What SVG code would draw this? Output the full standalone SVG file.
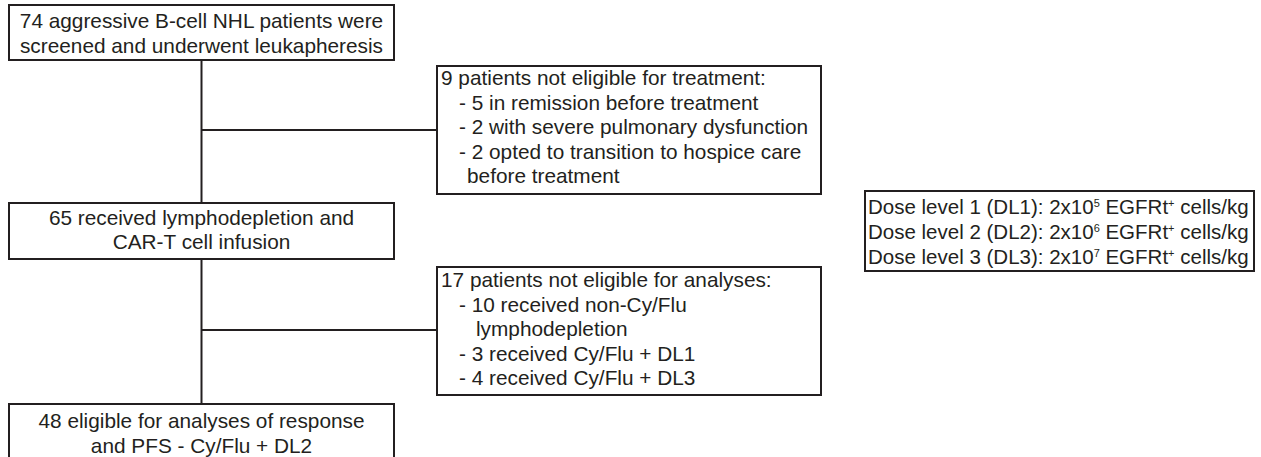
<svg xmlns="http://www.w3.org/2000/svg" width="1261" height="457" viewBox="0 0 1261 457">
  <style>
    .box { fill: #ffffff; stroke: #231f20; stroke-width: 2; }
    .link { fill: none; stroke: #231f20; stroke-width: 2; }
    text { font-family: "Liberation Sans", Arial, Helvetica, sans-serif; font-size: 20.8px; fill: #231f20; }
    .c { text-anchor: middle; }
    .legend { font-size: 20.5px; }
    .sup { font-size: 11px; }
  </style>
  <rect width="1261" height="457" fill="#ffffff"/>

  <!-- connectors -->
  <g id="connectors">
    <path class="link" d="M201.5,60 V203"/>
    <path class="link" d="M201.5,130 H437"/>
    <path class="link" d="M201.5,259 V404"/>
    <path class="link" d="M201.5,330 H437"/>
  </g>

  <g id="screened">
    <rect class="box" x="9" y="5" width="385" height="55"/>
    <text class="c" x="201.5" y="28">74 aggressive B-cell NHL patients were</text>
    <text class="c" x="201.5" y="53">screened and underwent leukapheresis</text>
  </g>

  <g id="not-eligible-treatment">
    <rect class="box" x="437" y="66" width="384" height="128"/>
    <text x="441" y="85">9 patients not eligible for treatment:</text>
    <text x="459" y="109.5">- 5 in remission before treatment</text>
    <text x="459" y="134">- 2 with severe pulmonary dysfunction</text>
    <text x="459" y="158.5">- 2 opted to transition to hospice care</text>
    <text x="467" y="183">before treatment</text>
  </g>

  <g id="infused">
    <rect class="box" x="9" y="203" width="385" height="56"/>
    <text class="c" x="201.5" y="224.5">65 received lymphodepletion and</text>
    <text class="c" x="201.5" y="249">CAR-T cell infusion</text>
  </g>

  <g id="not-eligible-analyses">
    <rect class="box" x="437" y="267" width="384" height="128"/>
    <text x="441" y="287">17 patients not eligible for analyses:</text>
    <text x="459" y="311.5">- 10 received non-Cy/Flu</text>
    <text x="476" y="336">lymphodepletion</text>
    <text x="459" y="360.5">- 3 received Cy/Flu + DL1</text>
    <text x="459" y="385">- 4 received Cy/Flu + DL3</text>
  </g>

  <g id="eligible">
    <rect class="box" x="9" y="404" width="385" height="60"/>
    <text class="c" x="201.5" y="428">48 eligible for analyses of response</text>
    <text class="c" x="201.5" y="453">and PFS - Cy/Flu + DL2</text>
  </g>

  <g id="dose-levels">
    <rect class="box" x="865" y="191" width="389" height="80"/>
    <text class="legend" x="868" y="214">Dose level 1 (DL1): 2x10<tspan class="sup" dy="-7">5</tspan><tspan dy="7"> EGFRt</tspan><tspan class="sup" dy="-7">+</tspan><tspan dy="7"> cells/kg</tspan></text>
    <text class="legend" x="868" y="239">Dose level 2 (DL2): 2x10<tspan class="sup" dy="-7">6</tspan><tspan dy="7"> EGFRt</tspan><tspan class="sup" dy="-7">+</tspan><tspan dy="7"> cells/kg</tspan></text>
    <text class="legend" x="868" y="264">Dose level 3 (DL3): 2x10<tspan class="sup" dy="-7">7</tspan><tspan dy="7"> EGFRt</tspan><tspan class="sup" dy="-7">+</tspan><tspan dy="7"> cells/kg</tspan></text>
  </g>
</svg>
